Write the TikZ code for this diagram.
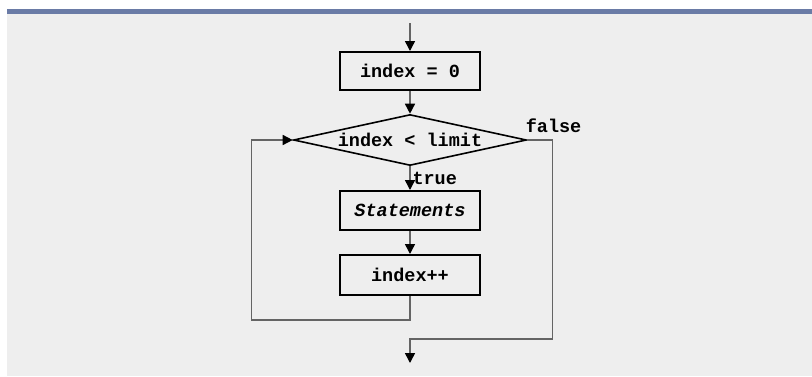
\documentclass[tikz,border=0pt]{standalone}
\usepackage{fontspec}
\setmonofont{Liberation Mono}
\usepackage{tikz}
\usetikzlibrary{arrows.meta,shapes.geometric}
\definecolor{bargray}{RGB}{106,123,166}
\definecolor{panel}{RGB}{238,238,238}
\definecolor{wire}{RGB}{100,100,100}

\begin{document}
\begin{tikzpicture}[x=1pt, y=-1pt,
	every node/.style = {font=\ttfamily\bfseries\fontsize{18.5}{20}\selectfont},
	box/.style = {draw, rectangle, line width=2pt, minimum width=140pt, inner sep=0pt},
	test/.style = {draw, diamond, line width=1.6pt, aspect=4.57, minimum width=233pt, minimum height=51pt, inner sep=0pt},
	flow/.style = {draw=wire, line width=1.5pt, -{Triangle[length=10pt, width=10pt, color=black]}},
	wire/.style = {draw=wire, line width=1.5pt}]
	\useasboundingbox (0,0) rectangle (812,376);
	\fill[panel] (7,13.5) rectangle (812,376);
	\fill[bargray] (7,9) rectangle (812,13.5);
	\coordinate (start) at (410,23);
	\coordinate (exit) at (410,363);
	\node[box, minimum height=38pt] (init) at (410,71) {index = 0};
	\node[test] (cond) at (410,140) {index < limit};
	\node[box, minimum height=39pt] (body) at (410,210.5) {\textit{Statements}};
	\node[box, minimum height=40pt] (incr) at (410,275) {index++};
	\node[anchor=base west] (no) at ([shift={(-5pt,8pt)}]cond.east) {false};
	\node[anchor=base west] (yes) at ([shift={(-1pt,-18pt)}]cond.south) {true};
	\draw[flow] (start) -- (init);
	\draw[flow] (init) -- (cond);
	\draw[flow] (cond) -- (body);
	\draw[flow] (body) -- (incr);
	\draw[flow] (incr.south) -- ++(0,24) -| ([xshift=-41pt]cond.west) -- (cond.west);
	\draw[flow] (cond.east) -- ++(25,0) |- ([yshift=24pt]exit) -- (exit);
\end{tikzpicture}
\end{document}
